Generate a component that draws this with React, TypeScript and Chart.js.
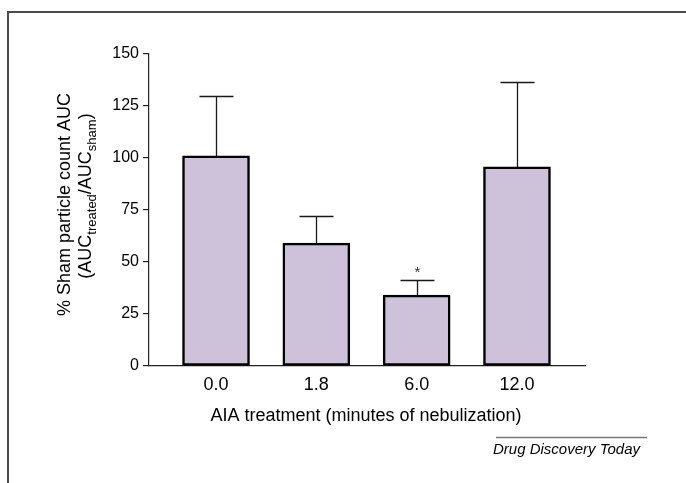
import React, { useEffect, useRef } from 'react';
import { Chart, registerables } from 'chart.js';

Chart.register(...registerables);

const categories = ['0.0', '1.8', '6.0', '12.0'];
const means = [101, 59.1, 34.1, 95.7];
const errors = [28.7, 13, 7.2, 40.7];
const marks = ['', '', '*', ''];
const yTickValues = [0, 25, 50, 75, 100, 125, 150];
const xTitle = 'AIA treatment (minutes of nebulization)';
const yTitle1 = '% Sham particle count AUC';
const yTitle2: [string, boolean][] = [
  ['(AUC', false],
  ['treated', true],
  ['/AUC', false],
  ['sham', true],
  [')', false],
];
const credit = 'Drug Discovery Today';

const FONT = '"Liberation Sans", Arial, Helvetica, sans-serif';

const decorPlugin = {
  id: 'decor',
  afterDraw(chart: any) {
    const ctx = chart.ctx as CanvasRenderingContext2D;
    const xs = chart.scales.x;
    const ys = chart.scales.y;
    const area = chart.chartArea;
    ctx.save();

    // outer frame (top + left)
    ctx.strokeStyle = '#4a4a4a';
    ctx.lineWidth = 2;
    ctx.beginPath();
    ctx.moveTo(8, 483);
    ctx.lineTo(8, 12);
    ctx.lineTo(686, 12);
    ctx.stroke();

    // error bars (upper only) and significance marks
    ctx.strokeStyle = '#1a1a1a';
    ctx.lineWidth = 1.3;
    ctx.fillStyle = '#333';
    means.forEach((m, i) => {
      const px = Math.round(xs.getPixelForValue(i)) + 0.5;
      const top = ys.getPixelForValue(m);
      const et = Math.round(ys.getPixelForValue(m + errors[i])) + 0.5;
      ctx.beginPath();
      ctx.moveTo(px, top);
      ctx.lineTo(px, et);
      ctx.moveTo(px - 17, et);
      ctx.lineTo(px + 17, et);
      ctx.stroke();
      if (marks[i]) {
        ctx.font = `15px ${FONT}`;
        ctx.textAlign = 'center';
        ctx.textBaseline = 'alphabetic';
        ctx.fillText(marks[i], px, et - 4);
      }
    });

    ctx.fillStyle = '#000';
    // x title
    ctx.font = `18px ${FONT}`;
    ctx.textAlign = 'center';
    ctx.textBaseline = 'middle';
    ctx.fillText(xTitle, (area.left + area.right) / 2 - 1, 416);

    // y title line 1
    ctx.save();
    ctx.translate(65, 204.5);
    ctx.rotate(-Math.PI / 2);
    ctx.font = `18px ${FONT}`;
    ctx.textAlign = 'center';
    ctx.textBaseline = 'middle';
    ctx.fillText(yTitle1, 0, 0);
    ctx.restore();

    // y title line 2 with subscripts
    ctx.save();
    ctx.translate(86, 196);
    ctx.rotate(-Math.PI / 2);
    ctx.textAlign = 'left';
    ctx.textBaseline = 'middle';
    let total = 0;
    yTitle2.forEach(([t, sub]) => {
      ctx.font = `${sub ? 13 : 18}px ${FONT}`;
      total += ctx.measureText(t).width;
    });
    let cx = -total / 2;
    yTitle2.forEach(([t, sub]) => {
      ctx.font = `${sub ? 13 : 18}px ${FONT}`;
      ctx.fillText(t, cx, sub ? 6 : 0);
      cx += ctx.measureText(t).width;
    });
    ctx.restore();

    // credit
    ctx.strokeStyle = '#777';
    ctx.lineWidth = 1.5;
    ctx.beginPath();
    ctx.moveTo(496, 437.5);
    ctx.lineTo(647, 437.5);
    ctx.stroke();
    ctx.font = `italic 15px ${FONT}`;
    ctx.textAlign = 'left';
    ctx.textBaseline = 'alphabetic';
    ctx.fillStyle = '#000';
    ctx.fillText(credit, 493, 454);

    ctx.restore();
  },
};

export default function App() {
  const ref = useRef<HTMLCanvasElement | null>(null);

  useEffect(() => {
    if (!ref.current) return;
    const chart = new Chart(ref.current, {
      type: 'bar',
      data: {
        datasets: [
          {
            data: means.map((v, i) => ({ x: i, y: v })),
            backgroundColor: '#CEC1DA',
            borderColor: '#000',
            borderWidth: 2.5,
            borderSkipped: false,
            barThickness: 67,
          },
        ],
      },
      options: {
        responsive: false,
        animation: false,
        events: [],
        layout: { padding: { top: 54, right: 101, left: 0, bottom: 0 } },
        plugins: { legend: { display: false }, tooltip: { enabled: false }, title: { display: false } },
        scales: {
          x: {
            type: 'linear',
            offset: false,
            min: -0.668,
            max: 3.678,
            afterFit: (s: any) => {
              s.height = 117;
            },
            afterBuildTicks: (s: any) => {
              s.ticks = categories.map((_, i) => ({ value: i }));
            },
            grid: { display: true, offset: false, drawOnChartArea: false, drawTicks: false, color: 'rgba(0,0,0,0)' },
            border: { display: true, color: '#222', width: 1.2 },
            ticks: {
              padding: 8,
              color: '#000',
              font: { family: FONT, size: 18 },
              autoSkip: false,
              maxRotation: 0,
              callback: (v: any) => {
                const n = Math.round(Number(v));
                return categories[n] ?? '';
              },
            },
          },
          y: {
            min: 0,
            max: 150,
            afterFit: (s: any) => {
              s.width = 149;
            },
            afterBuildTicks: (s: any) => {
              s.ticks = yTickValues.map((v) => ({ value: v }));
            },
            grid: { drawOnChartArea: false, drawTicks: true, tickLength: 6, color: '#222', lineWidth: 1.2 },
            border: { display: true, color: '#222', width: 1.2 },
            ticks: {
              padding: 4,
              color: '#000',
              font: { family: FONT, size: 16 },
            },
          },
        },
      },
      plugins: [decorPlugin],
    } as any);
    return () => chart.destroy();
  }, []);

  return (
    <div style={{ position: 'absolute', left: 0, top: 0, width: 686, height: 483, background: '#fff' }}>
      <canvas ref={ref} width={686} height={483} style={{ width: 686, height: 483, display: 'block' }} />
    </div>
  );
}
